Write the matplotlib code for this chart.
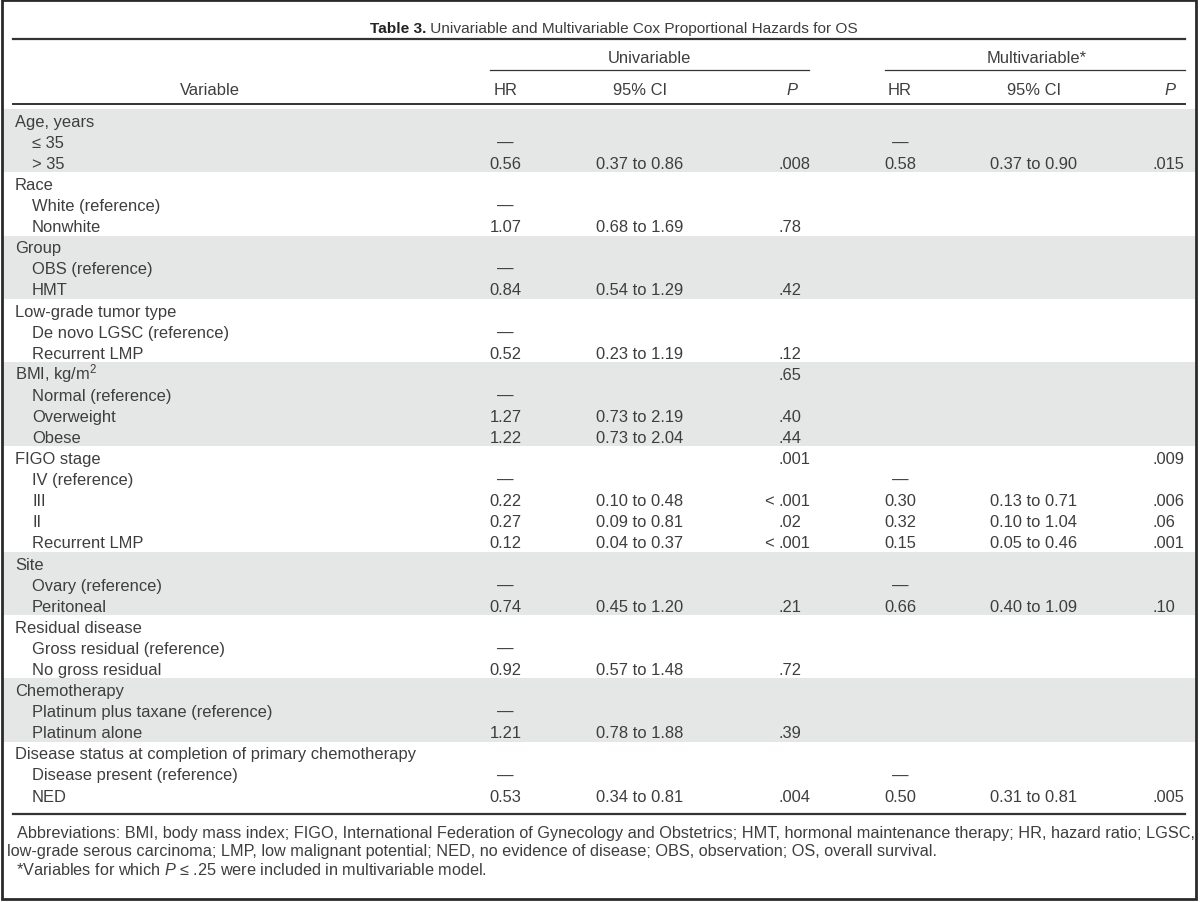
import matplotlib
matplotlib.use('Agg')
import matplotlib.pyplot as plt
from matplotlib.patches import Rectangle

plt.rcParams['font.family'] = ['Liberation Sans', 'DejaVu Sans']
plt.rcParams['mathtext.fontset'] = 'custom'
plt.rcParams['mathtext.rm'] = 'Liberation Sans'
plt.rcParams['mathtext.it'] = 'Liberation Sans:italic'

# table contents
labels = ['Age, years', '\u2264 35', '> 35',
          'Race', 'White (reference)', 'Nonwhite',
          'Group', 'OBS (reference)', 'HMT',
          'Low-grade tumor type', 'De novo LGSC (reference)', 'Recurrent LMP',
          'BMI, kg/m$^2$', 'Normal (reference)', 'Overweight', 'Obese',
          'FIGO stage', 'IV (reference)', 'III', 'II', 'Recurrent LMP',
          'Site', 'Ovary (reference)', 'Peritoneal',
          'Residual disease', 'Gross residual (reference)', 'No gross residual',
          'Chemotherapy', 'Platinum plus taxane (reference)', 'Platinum alone',
          'Disease status at completion of primary chemotherapy',
          'Disease present (reference)', 'NED']
indent = [0, 1, 1, 0, 1, 1, 0, 1, 1, 0, 1, 1, 0, 1, 1, 1, 0, 1, 1, 1, 1,
          0, 1, 1, 0, 1, 1, 0, 1, 1, 0, 1, 1]
group_starts = [0, 3, 6, 9, 12, 16, 21, 24, 27, 30, 33]

D = '\u2014'
uni_hr = ['', D, '0.56', '', D, '1.07', '', D, '0.84', '', D, '0.52',
          '', D, '1.27', '1.22', '', D, '0.22', '0.27', '0.12',
          '', D, '0.74', '', D, '0.92', '', D, '1.21', '', D, '0.53']
uni_ci = ['', '', '0.37 to 0.86', '', '', '0.68 to 1.69', '', '', '0.54 to 1.29',
          '', '', '0.23 to 1.19', '', '', '0.73 to 2.19', '0.73 to 2.04',
          '', '', '0.10 to 0.48', '0.09 to 0.81', '0.04 to 0.37',
          '', '', '0.45 to 1.20', '', '', '0.57 to 1.48', '', '', '0.78 to 1.88',
          '', '', '0.34 to 0.81']
uni_p = ['', '', '.008', '', '', '.78', '', '', '.42', '', '', '.12',
         '.65', '', '.40', '.44', '.001', '', '< .001', '.02', '< .001',
         '', '', '.21', '', '', '.72', '', '', '.39', '', '', '.004']
multi_hr = ['', D, '0.58'] + [''] * 14 + [D, '0.30', '0.32', '0.15',
            '', D, '0.66'] + [''] * 7 + [D, '0.50']
multi_ci = ['', '', '0.37 to 0.90'] + [''] * 15 + ['0.13 to 0.71', '0.10 to 1.04',
            '0.05 to 0.46', '', '', '0.40 to 1.09'] + [''] * 8 + ['0.31 to 0.81']
multi_p = ['', '', '.015'] + [''] * 13 + ['.009', '', '.006', '.06', '.001',
           '', '', '.10'] + [''] * 8 + ['.005']

title_bold = 'Table 3.'
title_rest = ' Univariable and Multivariable Cox Proportional Hazards for OS'
foot = ['Abbreviations: BMI, body mass index; FIGO, International Federation of Gynecology and Obstetrics; '
        'HMT, hormonal maintenance therapy; HR, hazard ratio; LGSC,',
        'low-grade serous carcinoma; LMP, low malignant potential; NED, no evidence of disease; '
        'OBS, observation; OS, overall survival.',
        '*Variables for which $P$ \u2264 .25 were included in multivariable model.']

txt = '#3e3e3e'
line = '#333333'
gray = '#e5e6e6'

fig = plt.figure(figsize=(12, 9.03), dpi=100)
ax = fig.add_axes([0, 0, 1, 1])
ax.set_xlim(0, 1200)
ax.set_ylim(903, 0)
ax.axis('off')
r = fig.canvas.get_renderer()


def width(s, fs, **kw):
    t = ax.text(0, 0, s, fontsize=fs, **kw)
    w = t.get_window_extent(r).width
    t.remove()
    return w


fs = 10 * 399 / width(labels[30], 10)
fs_foot = 10 * 1178 / width(foot[0], 10)

top0, pitch, base = 110, 21.09, 16.7
x_hr1, x_ci1, x_p1 = 505.5, 640, 779
x_hr2, x_ci2, x_p2 = 900, 1034, 1153

# shaded bands
for g in range(len(group_starts) - 1):
    if g % 2 == 0:
        y0 = top0 + group_starts[g] * pitch
        h = (group_starts[g + 1] - group_starts[g]) * pitch
        ax.add_patch(Rectangle((3, y0), 1192, h, color=gray, lw=0))


def dec(x, y, s):
    # align on the decimal point
    i = s.index('.')
    if s[:i]:
        ax.text(x, y, s[:i], ha='right', fontsize=fs, color=txt)
    ax.text(x, y, s[i:], ha='left', fontsize=fs, color=txt)


for i, lab in enumerate(labels):
    y = top0 + i * pitch + base
    ax.text(15 + 17 * indent[i], y, lab, fontsize=fs, color=txt)
    for x, col in [(x_hr1, uni_hr), (x_ci1, uni_ci), (x_hr2, multi_hr), (x_ci2, multi_ci)]:
        if col[i]:
            ax.text(x, y, col[i], ha='center', fontsize=fs, color=txt)
    for x, col in [(x_p1, uni_p), (x_p2, multi_p)]:
        if col[i]:
            dec(x, y, col[i])

# header
ax.text(649, 63, 'Univariable', ha='center', fontsize=fs, color=txt)
ax.text(1037, 63, 'Multivariable*', ha='center', fontsize=fs, color=txt)
ax.plot([490, 809], [71, 71], color=line, lw=0.9)
ax.plot([885, 1185], [71, 71], color=line, lw=0.9)
hy = 95
ax.text(210, hy, 'Variable', ha='center', fontsize=fs, color=txt)
for x, s in [(x_hr1, 'HR'), (x_ci1, '95% CI'), (x_hr2, 'HR'), (x_ci2, '95% CI')]:
    ax.text(x, hy, s, ha='center', fontsize=fs, color=txt)
ax.text(792, hy, 'P', ha='center', fontsize=fs, color=txt, style='italic')
ax.text(1170, hy, 'P', ha='center', fontsize=fs, color=txt, style='italic')

# title
fs_t = fs * 0.93
wb = width(title_bold, fs_t, fontweight='bold')
wr = width(title_rest, fs_t)
x0 = 614 - (wb + wr) / 2
ax.text(x0, 33, title_bold, fontsize=fs_t, fontweight='bold', color='#222222')
ax.text(x0 + wb, 33, title_rest, fontsize=fs_t, color=txt)

# rules
ax.plot([13, 1185], [39.5, 39.5], color=line, lw=1.6)
ax.plot([13, 1185], [105, 105], color=line, lw=1.4)
ax.plot([13, 1185], [815, 815], color=line, lw=1.6)

# footnotes
ax.text(17, 838, foot[0], fontsize=fs_foot, color=txt)
ax.text(7, 856, foot[1], fontsize=fs_foot, color=txt)
ax.text(16, 875, foot[2], fontsize=fs_foot, color=txt)

# outer frame
ax.add_patch(Rectangle((1.5, 1), 1194, 899, fill=False, ec='#2a2a2a', lw=2))

fig.savefig('out.png', dpi=100)
